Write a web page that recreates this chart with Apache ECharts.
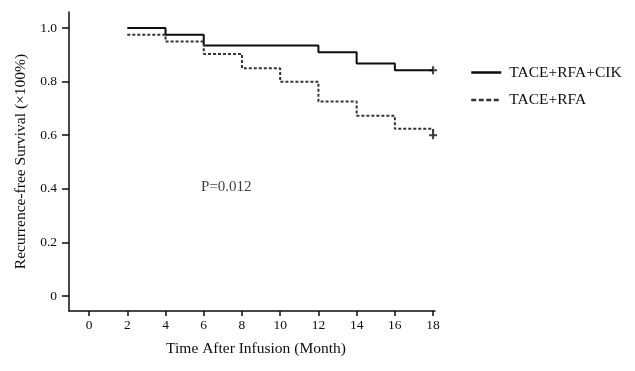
<!DOCTYPE html>
<html>
<head>
<meta charset="utf-8">
<script src="https://cdn.jsdelivr.net/npm/echarts@6/dist/echarts.min.js"></script>
<style>html,body{margin:0;padding:0;background:#fff}#c{width:635px;height:371px}</style>
</head>
<body>
<div id="c"></div>
<script>
const months = [2, 4, 6, 8, 10, 12, 14, 16, 18];
const survivalCIK = [1.0, 0.975, 0.935, 0.935, 0.935, 0.91, 0.868, 0.843, 0.843];
const survivalRFA = [0.975, 0.95, 0.903, 0.85, 0.80, 0.726, 0.673, 0.624, 0.624];
const censorCIK = [[18, 0.843]];
const censorRFA = [[18, 0.6]];
const xTicks = [0, 2, 4, 6, 8, 10, 12, 14, 16, 18];
const yTicks = [0, 0.2, 0.4, 0.6, 0.8, 1.0];
const seriesNames = ['TACE+RFA+CIK', 'TACE+RFA'];
const pValueText = 'P=0.012';
const pValuePos = [5.86, 0.407];

const font = '"Liberation Serif", "Times New Roman", serif';
const ink = '#0d0d0d';

const cikData = months.map((m, i) => [m, survivalCIK[i]]);
const rfaData = months.map((m, i) => [m, survivalRFA[i]]).concat(censorRFA);
const plus = 'path://M0,4 L8,4 M4,0 L4,8';

const chart = echarts.init(document.getElementById('c'), null, {renderer: 'canvas'});
chart.setOption({
  animation: false,
  backgroundColor: '#fff',
  grid: {left: 69, right: 200, top: 12, bottom: 60, containLabel: false},
  legend: {
    orient: 'vertical', left: 465, top: 59.5, itemGap: 11.5,
    itemWidth: 30, itemHeight: 15,
    itemStyle: {opacity: 0},
    lineStyle: {width: 2.5},
    textStyle: {fontFamily: font, fontSize: 15.5, color: ink, padding: [0, 0, 0, 3]},
    data: [
      {name: seriesNames[0]},
      {name: seriesNames[1], lineStyle: {type: [5, 2.5], width: 2.5}}
    ]
  },
  xAxis: {
    type: 'value', min: -1.05, max: 18.1,
    name: 'Time After Infusion (Month)', nameLocation: 'middle', nameGap: 30,
    nameTextStyle: {fontFamily: font, fontSize: 15.5, color: ink, padding: [0, 0, 0, 8]},
    axisLine: {show: true, onZero: false, lineStyle: {color: ink, width: 1.5}},
    axisTick: {show: true, length: 5, lineStyle: {color: ink, width: 1.5}, customValues: xTicks},
    axisLabel: {fontFamily: font, fontSize: 13.5, color: ink, margin: 7, customValues: xTicks},
    splitLine: {show: false}
  },
  yAxis: {
    type: 'value', min: -0.056, max: 1.06,
    name: 'Recurrence-free Survival (×100%)', nameLocation: 'middle', nameGap: 39,
    nameTextStyle: {fontFamily: font, fontSize: 15.5, color: ink},
    axisLine: {show: true, onZero: false, lineStyle: {color: ink, width: 1.5}},
    axisTick: {show: true, length: 7, lineStyle: {color: ink, width: 1.5}, customValues: yTicks},
    axisLabel: {fontFamily: font, fontSize: 13.5, color: ink, margin: 12, customValues: yTicks,
      formatter: v => v === 0 ? '0' : v.toFixed(1)},
    splitLine: {show: false}
  },
  series: [
    {
      name: seriesNames[0], type: 'line', step: 'end', data: cikData,
      showSymbol: false, symbol: 'none',
      lineStyle: {color: ink, width: 2, type: 'solid'},
      itemStyle: {color: ink}
    },
    {
      name: seriesNames[1], type: 'line', step: 'end', data: rfaData,
      showSymbol: false, symbol: 'none',
      lineStyle: {color: '#333', width: 2, type: [3, 2]},
      itemStyle: {color: '#333'}
    },
    {
      type: 'scatter', data: censorCIK.concat(censorRFA), symbol: plus, symbolSize: 8,
      itemStyle: {color: 'none', borderColor: ink, borderWidth: 2},
      silent: true
    },
    {
      type: 'scatter', data: [pValuePos], symbolSize: 0, silent: true,
      label: {show: true, position: 'right', distance: 0, formatter: pValueText,
        fontFamily: font, fontSize: 15, color: ink}
    }
  ]
});
</script>
</body>
</html>
